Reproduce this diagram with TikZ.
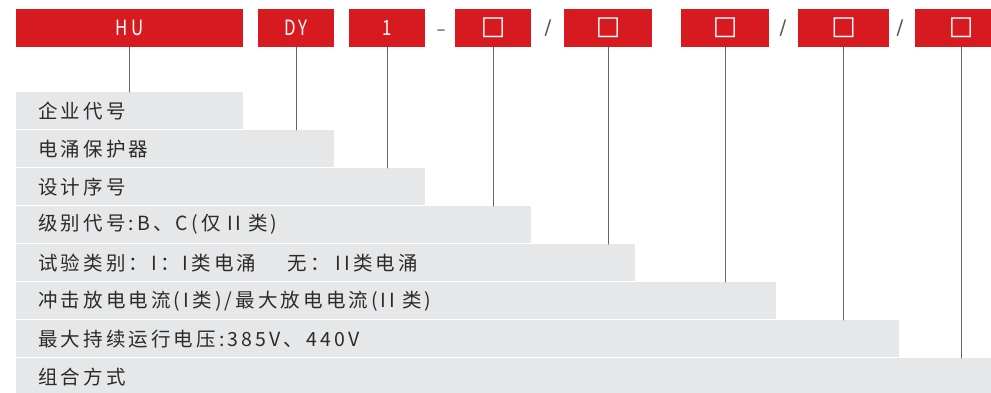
\documentclass[tikz,border=0pt]{standalone}
\usepackage{fontspec}
\newfontfamily\cnfont[LetterSpace=16]{Noto Sans CJK SC}
\newfontfamily\codefont[FakeStretch=0.8,LetterSpace=15]{Noto Sans CJK SC}
\newfontfamily\symfont{DejaVu Sans}
\definecolor{hured}{HTML}{D71920}
\definecolor{barg}{HTML}{E6E7E8}
\definecolor{txtg}{HTML}{2B2B2B}
\begin{document}
\begin{tikzpicture}[x=1pt, y=-1pt, line cap=round,
  redbox/.style={fill=hured, text=white, anchor=north west, minimum height=38pt, inner sep=0pt, font=\codefont\fontsize{21}{21}\selectfont},
  blank/.style={redbox, font=\symfont\fontsize{26}{26}\selectfont},
  bar/.style={fill=barg, text=txtg, anchor=north west, minimum height=37pt, inner xsep=22pt, inner ysep=0pt, text width=#1, align=left, font=\cnfont\fontsize{19.5}{19.5}\selectfont},
  conn/.style={draw=black!60, line width=1pt},
  sep/.style={text=black!65, anchor=base, inner sep=0pt, font=\symfont\fontsize{20}{20}\selectfont}]
\useasboundingbox (0,0) rectangle (991,393);
% Mã sản phẩm (các ô đỏ)
\node[redbox, minimum width=227pt] (hu) at (16,9) {HU};
\node[redbox, minimum width=76pt] (dy) at (258,9) {DY};
\node[redbox, minimum width=76pt] (one) at (349,9) {1};
\node[sep, font=\symfont\fontsize{18}{18}\selectfont] (s1) at (441,36) {–};
\node[blank, minimum width=76pt] (c4) at (455,9) {□};
\node[sep] (s2) at (548,35) {/};
\node[blank, minimum width=88pt] (c5) at (564,9) {□};
\node[blank, minimum width=88pt] (c6) at (681,9) {□};
\node[sep] (s3) at (783,35) {/};
\node[blank, minimum width=91pt] (c7) at (798,9) {□};
\node[sep] (s4) at (900,35) {/};
\node[blank, minimum width=92pt] (c8) at (915,9) {□};
% Các dải xám giải thích
\node[bar=183pt] (b1) at (16,92) {企业代号};
\node[bar=274pt] (b2) at (16,130) {电涌保护器};
\node[bar=365pt] (b3) at (16,168) {设计序号};
\node[bar=471pt] (b4) at (16,206) {级别代号:B、C(仅 II 类)};
\node[bar=575pt] (b5) at (16,244) {试验类别：I：I类电涌\hspace{1.6em}无：\hspace{0.3em}II类电涌};
\node[bar=716pt] (b6) at (16,282) {冲击放电电流(I类)/最大放电电流(II 类)};
\node[bar=839pt] (b7) at (16,320) {最大持续运行电压:385V、440V};
\node[bar=931pt] (b8) at (16,358) {组合方式};
% Đường nối
\draw[conn] (hu.south) -- (hu.south |- b1.north);
\draw[conn] (dy.south) -- (dy.south |- b2.north);
\draw[conn] (one.south) -- (one.south |- b3.north);
\draw[conn] (c4.south) -- (c4.south |- b4.north);
\draw[conn] (c5.south) -- (c5.south |- b5.north);
\draw[conn] (c6.south) -- (c6.south |- b6.north);
\draw[conn] (c7.south) -- (c7.south |- b7.north);
\draw[conn] (c8.south) -- (c8.south |- b8.north);
\end{tikzpicture}
\end{document}
